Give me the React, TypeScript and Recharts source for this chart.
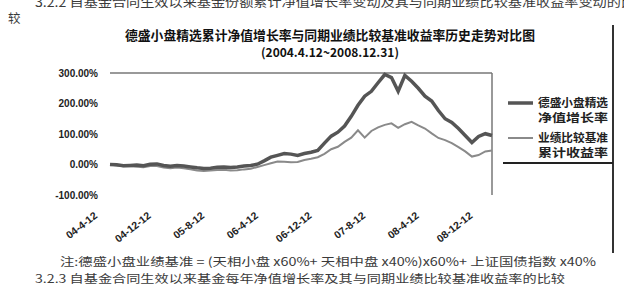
import React from 'react';
import { LineChart, Line, XAxis, YAxis, ReferenceLine } from 'recharts';

// monthly readings, 2004-04-12 .. 2008-12-31
const dates = [
  '04-4-12', '04-5-12', '04-6-12', '04-7-12', '04-8-12', '04-9-12', '04-10-12', '04-11-12', '04-12-12',
  '05-1-12', '05-2-12', '05-3-12', '05-4-12', '05-5-12', '05-6-12', '05-7-12', '05-8-12', '05-9-12',
  '05-10-12', '05-11-12', '05-12-12', '06-1-12', '06-2-12', '06-3-12', '06-4-12', '06-5-12', '06-6-12',
  '06-7-12', '06-8-12', '06-9-12', '06-10-12', '06-11-12', '06-12-12', '07-1-12', '07-2-12', '07-3-12',
  '07-4-12', '07-5-12', '07-6-12', '07-7-12', '07-8-12', '07-9-12', '07-10-12', '07-11-12', '07-12-12',
  '08-1-12', '08-2-12', '08-3-12', '08-4-12', '08-5-12', '08-6-12', '08-7-12', '08-8-12', '08-9-12',
  '08-10-12', '08-11-12', '08-12-12', '08-12-31',
];

const fundGrowth = [
  0, -1, -4, -3, -2, -4, 1, 2, -3,
  -6, -3, -5, -8, -11, -13, -12, -9, -8,
  -10, -8, -5, -3, 1, 12, 24, 30, 36,
  34, 30, 36, 40, 46, 70, 93, 106, 126,
  158, 194, 224, 240, 268, 295, 285, 240, 292,
  273, 250, 224, 208, 177, 150, 138, 118, 95,
  72, 92, 101, 95,
];

const benchmarkReturn = [
  0, -3, -6, -6, -7, -9, -5, -5, -10,
  -12, -10, -12, -16, -20, -21, -20, -18, -17,
  -20, -19, -16, -14, -8, -2, 4, 10, 9,
  7, 8, 15, 19, 24, 35, 50, 58, 74,
  88, 112, 88, 110, 122, 130, 135, 120, 132,
  140, 128, 118, 102, 87, 80, 70, 57, 43,
  26, 31, 43, 46,
];

const yTicks = [-100, 0, 100, 200, 300];
const legendLines = [
  ['德盛小盘精选', '净值增长率'],
  ['业绩比较基准', '累计收益率'],
];

const data = dates.map((d, i) => ({ date: d, fund: fundGrowth[i], bench: benchmarkReturn[i] }));

const cjk = '"Noto Sans CJK SC", "Noto Sans", sans-serif';

function DateTick({ x, y, payload }: any) {
  const ax = x - 12;
  const ay = y + 14;
  return (
    <text
      x={ax}
      y={ay}
      textAnchor="end"
      transform={`rotate(-38 ${ax} ${ay})`}
      fontSize={10.5}
      fontWeight={700}
      fontFamily='"Liberation Sans", Arial, sans-serif'
      fill="#222"
    >
      {payload.value}
    </text>
  );
}

function ChartLegend() {
  const strokes = [
    { color: '#555', width: 3.5 },
    { color: '#8a8a8a', width: 2 },
  ];
  return (
    <svg width={112} height={70} style={{ position: 'absolute', left: 505, top: 95 }}>
      {legendLines.map((lines, i) => (
        <g key={i} transform={`translate(0, ${i * 35})`}>
          <line x1={3} x2={28} y1={8} y2={8} stroke={strokes[i].color} strokeWidth={strokes[i].width} />
          {lines.map((t, j) => (
            <text
              key={j}
              x={33}
              y={12 + j * 15}
              fontSize={11.5}
              fontWeight={700}
              fontFamily={cjk}
              fill="#222"
              textLength={70}
              lengthAdjust="spacingAndGlyphs"
            >
              {t}
            </text>
          ))}
        </g>
      ))}
    </svg>
  );
}

export default function App() {
  return (
    <div style={{ position: 'absolute', left: 0, top: 0, width: 624, height: 286, background: '#fff', overflow: 'hidden' }}>
      <svg width={624} height={286} style={{ position: 'absolute', left: 0, top: 0 }}>
        <g fontFamily={cjk} fill="#3a3a3a" fontSize={12.5}>
          <text x={35} y={7} textLength={600} lengthAdjust="spacingAndGlyphs">
            3.2.2 自基金合同生效以来基金份额累计净值增长率变动及其与同期业绩比较基准收益率变动的比
          </text>
          <text x={8} y={23}>较</text>
          <text x={60} y={266} fontSize={11.5} textLength={536} lengthAdjust="spacingAndGlyphs">
            注:德盛小盘业绩基准 = (天相小盘 x60%+ 天相中盘 x40%)x60%+ 上证国债指数 x40%
          </text>
          <text x={35} y={283} fontSize={11.5} textLength={530} lengthAdjust="spacingAndGlyphs">
            3.2.3 自基金合同生效以来基金每年净值增长率及其与同期业绩比较基准收益率的比较
          </text>
        </g>
        <g fontFamily={cjk} fill="#111" fontWeight={700} fontSize={13}>
          <text x={125} y={40} textLength={410} lengthAdjust="spacingAndGlyphs">
            德盛小盘精选累计净值增长率与同期业绩比较基准收益率历史走势对比图
          </text>
          <text x={330} y={57} textAnchor="middle" fontSize={12}>
            (2004.4.12~2008.12.31)
          </text>
        </g>
        <line x1={613} x2={613} y1={25} y2={253} stroke="#333" strokeWidth={2} />
        <line x1={503} x2={613} y1={163} y2={163} stroke="#222" strokeWidth={2} />
      </svg>
      <div style={{ position: 'absolute', left: 0, top: 0 }}>
        <LineChart width={624} height={286} data={data} margin={{ top: 73, right: 132, bottom: 71, left: 40 }}>
          <XAxis
            dataKey="date"
            interval={7}
            tick={<DateTick />}
            tickLine={false}
            axisLine={false}
            height={20}
          />
          <YAxis
            domain={[-100, 300]}
            ticks={yTicks}
            tickFormatter={(v: number) => `${v.toFixed(2)}%`}
            tickLine={false}
            axisLine={false}
            tickSize={10}
            tickMargin={2}
            width={70}
            tick={{ fontSize: 10, fontWeight: 700, fill: '#222', fontFamily: '"Liberation Sans", Arial, sans-serif' }}
          />
          <ReferenceLine y={300} stroke="#777" strokeWidth={1.5} />
          <ReferenceLine x="08-12-31" stroke="#777" strokeWidth={1.5} />
          <Line
            type="linear"
            dataKey="bench"
            name="业绩比较基准累计收益率"
            stroke="#8a8a8a"
            strokeWidth={2}
            dot={false}
            isAnimationActive={false}
          />
          <Line
            type="linear"
            dataKey="fund"
            name="德盛小盘精选净值增长率"
            stroke="#555"
            strokeWidth={3.5}
            dot={false}
            isAnimationActive={false}
          />
        </LineChart>
      </div>
      <ChartLegend />
    </div>
  );
}
